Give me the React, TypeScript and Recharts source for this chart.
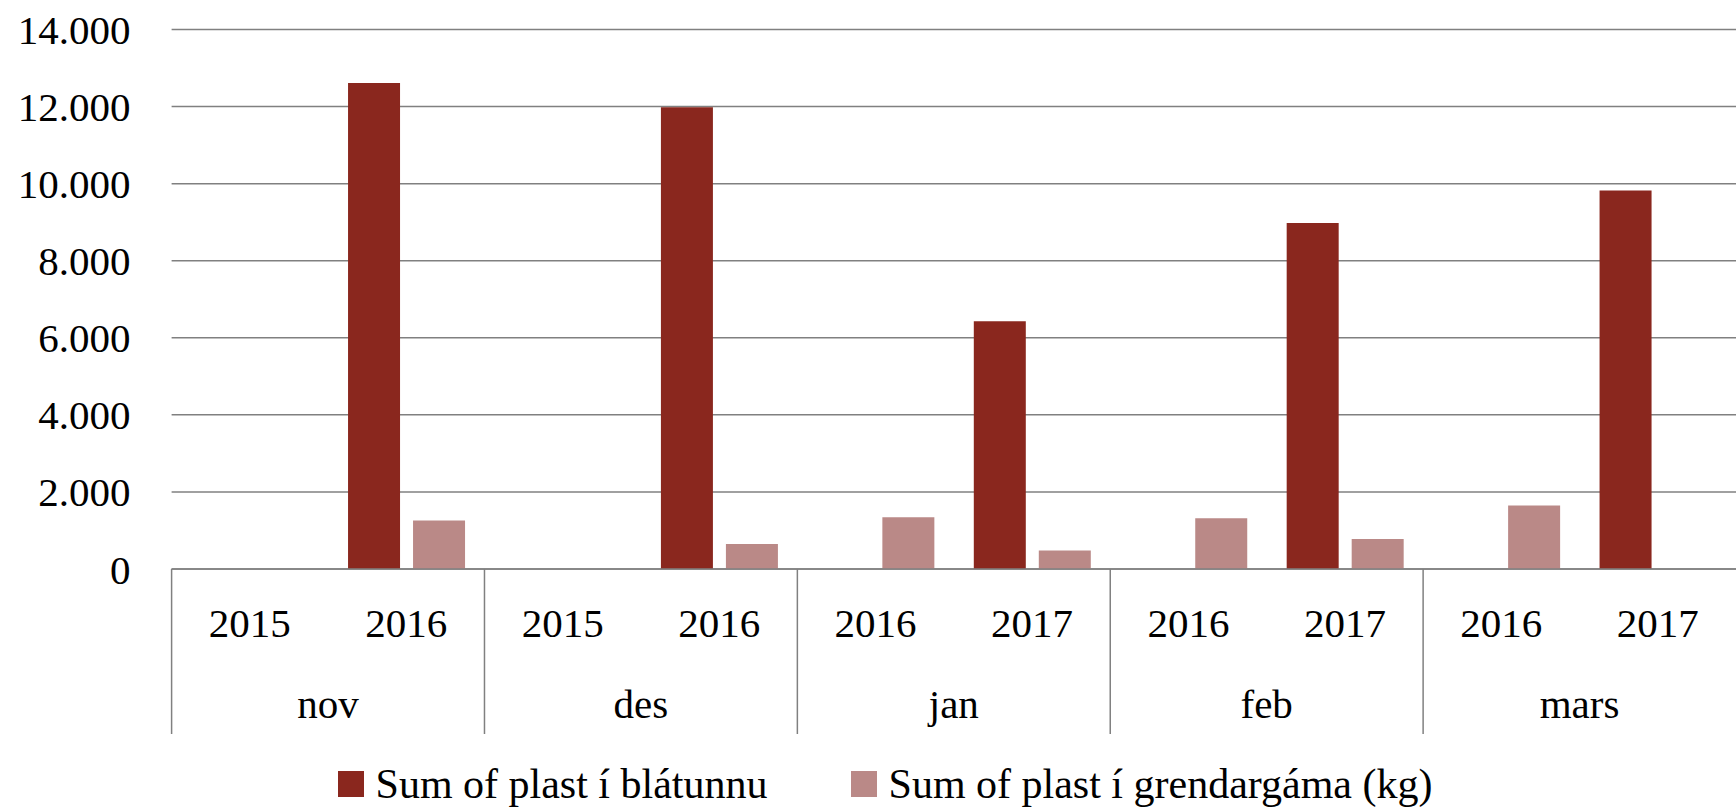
import { BarChart, Bar, XAxis, YAxis, CartesianGrid, Legend } from 'recharts';

const months = ['nov', 'des', 'jan', 'feb', 'mars'];
const years = ['2015', '2016', '2015', '2016', '2016', '2017', '2016', '2017', '2016', '2017'];
const blatunnu = [null, 12610, null, 11980, null, 6430, null, 8980, null, 9820];
const grendargama = [null, 1260, null, 650, 1340, 480, 1320, 780, 1650, null];
const yTicks = [0, 2000, 4000, 6000, 8000, 10000, 12000, 14000];

const seriesNames = ['Sum of plast í blátunnu', 'Sum of plast í grendargáma (kg)'];
const RED = '#8A271E';
const PINK = '#BA8987';
const GRID = '#808080';
const FONT = '"Liberation Serif", "Times New Roman", serif';

const W = 1736;
const H = 809;
const Y_AXIS_W = 171.6;
const AXIS_H = 165;

const data = years.map((year, i) => ({
  key: `${months[Math.floor(i / 2)]}-${year}-${i}`,
  blatunnu: blatunnu[i],
  grendargama: grendargama[i],
}));

const fmt = (v: number) => String(v).replace(/\B(?=(\d{3})+(?!\d))/g, '.');

// two-level category axis: year under each bar pair, month under each pair of years
function CategoryTick(props: any) {
  const { x, y, payload } = props;
  const i = payload.index as number;
  const band = (W - Y_AXIS_W) / data.length;
  return (
    <g>
      <text x={x} y={y + 68} textAnchor="middle" fontFamily={FONT} fontSize={41} fill="#000">
        {years[i]}
      </text>
      {i % 2 === 0 && (
        <>
          <line x1={x - band / 2} x2={x - band / 2} y1={y} y2={y + AXIS_H} stroke={GRID} strokeWidth={1.5} />
          <text x={x + band / 2} y={y + 149} textAnchor="middle" fontFamily={FONT} fontSize={41} fill="#000">
            {months[i / 2]}
          </text>
        </>
      )}
    </g>
  );
}

function renderLegend(props: any) {
  const items = props.payload ?? [];
  return (
    <div style={{ display: 'flex', justifyContent: 'center', gap: 83, paddingLeft: 34, fontFamily: FONT, fontSize: 42, color: '#000', lineHeight: '46px' }}>
      {items.map((it: any) => (
        <div key={it.value} style={{ display: 'flex', alignItems: 'center' }}>
          <span style={{ display: 'inline-block', width: 26, height: 26, background: it.color, marginRight: 12 }} />
          <span>{it.value}</span>
        </div>
      ))}
    </div>
  );
}

export default function App() {
  return (
    <div style={{ position: 'absolute', left: 0, top: 0, width: W, height: H, background: '#fff' }}>
      <BarChart
        width={W}
        height={H}
        data={data}
        margin={{ top: 29.5, right: 0, bottom: 75, left: 0 }}
        barSize={52}
        barGap={13}
      >
        <CartesianGrid vertical={false} stroke={GRID} strokeWidth={1.5} />
        <XAxis
          dataKey="key"
          interval={0}
          height={AXIS_H}
          tickLine={false}
          tickSize={0}
          tickMargin={0}
          axisLine={{ stroke: GRID, strokeWidth: 1.5 }}
          tick={<CategoryTick />}
        />
        <YAxis
          width={Y_AXIS_W}
          domain={[0, 14000]}
          ticks={yTicks}
          interval={0}
          axisLine={false}
          tickLine={false}
          tickSize={0}
          tickMargin={41}
          tickFormatter={fmt}
          tick={{ fontFamily: FONT, fontSize: 41, fill: '#000' }}
        />
        <Legend
          layout="horizontal"
          verticalAlign="middle"
          align="center"
          wrapperStyle={{ top: 761, left: 0, width: W }}
          content={renderLegend}
        />
        <Bar dataKey="blatunnu" name={seriesNames[0]} fill={RED} isAnimationActive={false} />
        <Bar dataKey="grendargama" name={seriesNames[1]} fill={PINK} isAnimationActive={false} />
      </BarChart>
    </div>
  );
}
